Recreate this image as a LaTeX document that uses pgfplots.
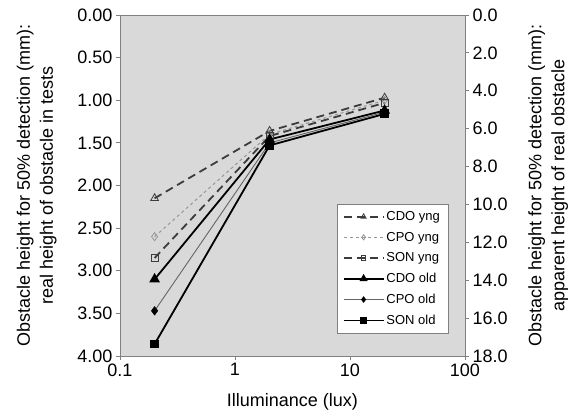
\documentclass[border=0pt]{standalone}
\usepackage{fontspec}
\setmainfont{Liberation Sans}
\usepackage{pgfplots}
\pgfplotsset{compat=1.18}
\definecolor{bggray}{RGB}{217,217,217}
\definecolor{axgray}{RGB}{128,128,128}
\definecolor{darkln}{RGB}{60,60,60}
\definecolor{lightln}{RGB}{150,150,150}
\definecolor{midln}{RGB}{100,100,100}

\begin{document}
\begin{tikzpicture}[font=\fontsize{18}{23}\selectfont]
\pgfplotsset{
  every axis/.append style={
    scale only axis, width=345pt, height=341pt,
    /pgf/number format/assume math mode=true,
    tick align=outside, major tick length=4pt,
    every tick/.style={axgray, line width=0.8pt},
    axis line style={axgray, line width=0.8pt},
    ylabel style={align=center},
    ylabel shift=14pt,
  },
}
\begin{axis}[
  xmode=log, xmin=0.1, xmax=100,
  xtick={0.1,1,10,100}, xticklabels={0.1,1,10,100},
  xminorticks=false,
  ymin=0, ymax=4, y dir=reverse,
  ytick={0,0.5,...,4},
  yticklabel style={/pgf/number format/.cd, fixed, fixed zerofill, precision=2},
  xtick pos=bottom, ytick pos=left,
  axis background/.style={fill=bggray},
  xlabel={Illuminance (lux)},
  xlabel shift=10pt,
  ylabel={Obstacle height for 50\% detection (mm):\\real height of obstacle in tests},
  legend style={at={(0.951,0.067)}, anchor=south east, fill=white, draw=axgray,
    font=\fontsize{13}{15}\selectfont, row sep=6pt, inner xsep=6pt, inner ysep=5pt},
  legend cell align=left,
  legend image code/.code={
    \draw[mark repeat=2, mark phase=2, #1, every mark/.append style={scale=0.65}]
      plot coordinates {(0cm,0cm) (0.7cm,0cm) (1.4cm,0cm)};},
]
\addplot[darkln, line width=1.8pt, dash pattern=on 8pt off 5pt,
  mark=triangle, mark size=4.5pt, mark options={solid, line width=0.8pt, fill=white}]
  coordinates {(0.2,2.15) (2,1.36) (20,0.97)};
\addlegendentry{CDO yng}
\addplot[lightln, line width=1.0pt, dash pattern=on 3pt off 3pt,
  mark=diamond, mark size=4pt, mark options={solid, line width=0.8pt, fill=white}]
  coordinates {(0.2,2.60) (2,1.40) (20,1.00)};
\addlegendentry{CPO yng}
\addplot[darkln, line width=1.8pt, dash pattern=on 8pt off 5pt,
  mark=square, mark size=3.5pt, mark options={solid, line width=1pt, fill=white}]
  coordinates {(0.2,2.85) (2,1.42) (20,1.03)};
\addlegendentry{SON yng}
\addplot[black, line width=1.8pt,
  mark=triangle*, mark size=4.5pt, mark options={solid}]
  coordinates {(0.2,3.10) (2,1.46) (20,1.12)};
\addlegendentry{CDO old}
\addplot[midln, line width=0.9pt,
  mark=diamond*, mark size=4pt, mark options={solid, black, fill=black}]
  coordinates {(0.2,3.47) (2,1.50) (20,1.14)};
\addlegendentry{CPO old}
\addplot[black, line width=1.8pt,
  mark=square*, mark size=3.5pt, mark options={solid}]
  coordinates {(0.2,3.86) (2,1.53) (20,1.16)};
\addlegendentry{SON old}
\end{axis}
\begin{axis}[
  xmode=log, xmin=0.1, xmax=100,
  axis x line=none,
  axis y line*=right,
  ymin=0, ymax=18, y dir=reverse,
  ytick={0,2,...,18},
  yticklabel style={/pgf/number format/.cd, fixed, fixed zerofill, precision=1},
  ylabel={Obstacle height for 50\% detection (mm):\\apparent height of real obstacle},
]
\end{axis}
\pgfresetboundingbox
\path[use as bounding box] (-120pt,-63pt) rectangle (459pt,356pt);
\end{tikzpicture}
\end{document}
